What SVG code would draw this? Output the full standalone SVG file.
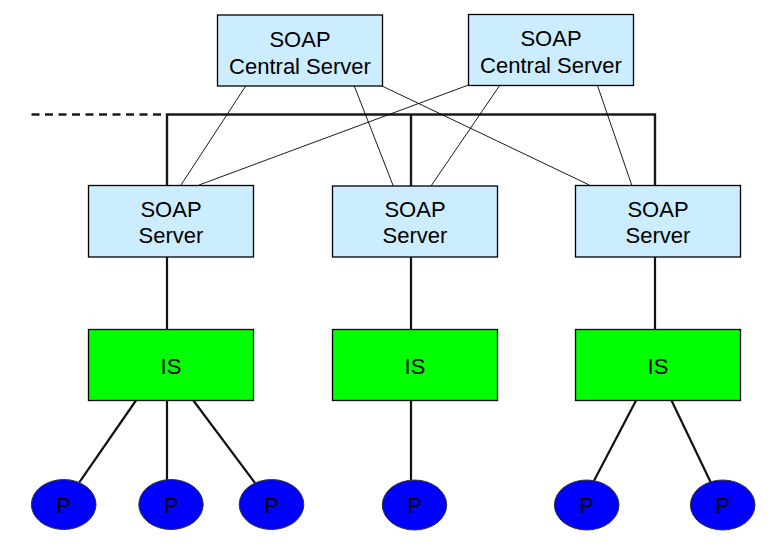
<svg xmlns="http://www.w3.org/2000/svg" width="776" height="547" viewBox="0 0 776 547">
<style>
.srv{fill:#CCECFF;stroke:#000;stroke-width:1.3}
.is{fill:#00FF00;stroke:#000;stroke-width:1.3}
.p{fill:#0000FF;stroke:#333;stroke-width:1}
.t{font-family:"Liberation Sans",Arial,sans-serif;font-size:22px;fill:#000;text-anchor:middle}
.bus{stroke:#1a1a1a;stroke-width:2.4;fill:none}
.thin{stroke:#000;stroke-width:0.9;fill:none}
.link{stroke:#111;stroke-width:2.2;fill:none}
</style>
<rect width="776" height="547" fill="#fff"/>
<g id="connectors">
<line class="bus" x1="31.5" y1="114.5" x2="167" y2="114.5" stroke-dasharray="8 5.5"/>
<polyline class="bus" points="167,186 167,114.5 655,114.5 655,186"/>
<line class="bus" x1="411" y1="114.5" x2="411" y2="186"/>
<line class="thin" x1="245.7" y1="86" x2="181" y2="185"/>
<line class="thin" x1="468.5" y1="85" x2="199" y2="185"/>
<line class="thin" x1="354.3" y1="86" x2="393.3" y2="186"/>
<line class="thin" x1="500" y1="85" x2="431" y2="186"/>
<line class="thin" x1="382" y1="86" x2="589.3" y2="185"/>
<line class="thin" x1="597.3" y1="85" x2="631.7" y2="185"/>
<line class="link" x1="167" y1="257" x2="167" y2="329"/>
<line class="link" x1="411" y1="257" x2="411" y2="329"/>
<line class="link" x1="655" y1="257" x2="655" y2="329"/>
<line class="link" x1="136.3" y1="400" x2="79.3" y2="482.3"/>
<line class="link" x1="167" y1="400" x2="167" y2="480"/>
<line class="link" x1="193" y1="400" x2="255.3" y2="483.3"/>
<line class="link" x1="411" y1="400" x2="411" y2="480"/>
<line class="link" x1="636.3" y1="400" x2="594" y2="480.7"/>
<line class="link" x1="671.3" y1="400" x2="710.7" y2="482.3"/>
</g>
<g id="cs1"><rect class="srv" x="217.5" y="15" width="165" height="71"/><text class="t" x="300" y="46.5">SOAP</text><text class="t" x="300" y="73.5">Central Server</text></g>
<g id="cs2"><rect class="srv" x="468.5" y="14.5" width="165" height="71"/><text class="t" x="551" y="46">SOAP</text><text class="t" x="551" y="73">Central Server</text></g>
<g id="s1"><rect class="srv" x="88.5" y="185.5" width="165" height="71.5"/><text class="t" x="171" y="216.5">SOAP</text><text class="t" x="171" y="243">Server</text></g>
<g id="s2"><rect class="srv" x="332.5" y="186" width="165" height="71"/><text class="t" x="415" y="216.5">SOAP</text><text class="t" x="415" y="243">Server</text></g>
<g id="s3"><rect class="srv" x="575.5" y="185.5" width="165" height="71.5"/><text class="t" x="658" y="216.5">SOAP</text><text class="t" x="658" y="243">Server</text></g>
<g id="is1"><rect class="is" x="88.5" y="329.5" width="165" height="71"/><text class="t" x="171" y="374">IS</text></g>
<g id="is2"><rect class="is" x="332.5" y="329.5" width="165" height="71"/><text class="t" x="415" y="374">IS</text></g>
<g id="is3"><rect class="is" x="575.5" y="329.5" width="165" height="71"/><text class="t" x="658" y="374">IS</text></g>
<g id="p1"><ellipse class="p" cx="63.7" cy="504.5" rx="32.3" ry="25"/><text class="t" x="63.7" y="512.7">P</text></g>
<g id="p2"><ellipse class="p" cx="171" cy="504.5" rx="32.2" ry="25"/><text class="t" x="171" y="512.7">P</text></g>
<g id="p3"><ellipse class="p" cx="271.5" cy="504.5" rx="32.3" ry="25"/><text class="t" x="271.5" y="512.7">P</text></g>
<g id="p4"><ellipse class="p" cx="414.5" cy="505" rx="32.2" ry="25"/><text class="t" x="414.5" y="513">P</text></g>
<g id="p5"><ellipse class="p" cx="586.7" cy="505" rx="32.3" ry="25"/><text class="t" x="586.7" y="513">P</text></g>
<g id="p6"><ellipse class="p" cx="722.7" cy="505" rx="32.3" ry="25"/><text class="t" x="722.7" y="513">P</text></g>
</svg>
